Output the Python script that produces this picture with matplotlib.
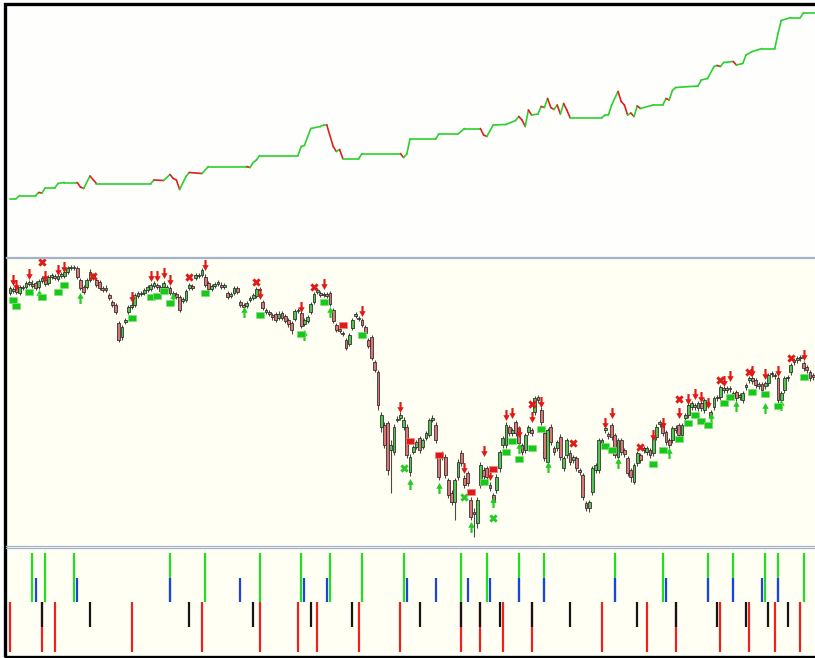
import numpy as np
import matplotlib
matplotlib.use('Agg')
import matplotlib.pyplot as plt
from matplotlib.path import Path
from matplotlib.collections import LineCollection
from matplotlib.patches import Rectangle
from matplotlib.lines import Line2D

# equity curve (bar, cumulative profit) - keypoints
eq_bar = [0, 2, 3, 8, 9, 10, 11, 14, 15, 17, 21, 22, 23, 25, 27, 44, 45, 48, 50, 51,
          52, 53, 55, 56, 60, 62, 74, 75, 76, 77, 78, 90, 91, 92, 94, 97, 98, 99, 101, 102,
          103, 104, 109, 110, 122, 123, 124, 125, 133, 134, 140, 142, 147, 148, 149, 151, 155, 158, 159, 160,
          161, 162, 163, 165, 166, 167, 168, 169, 170, 171, 172, 173, 174, 175, 185, 186, 187, 188, 190, 191,
          192, 193, 194, 195, 196, 197, 201, 204, 205, 206, 207, 208, 215, 216, 218, 220, 221, 222, 223, 226,
          227, 229, 230, 232, 235, 239, 240, 241, 244, 247, 248, 252]
eq_val = [0, 0, 3, 3, 6, 5.5, 10.5, 10.5, 15, 16, 16, 11.5, 10, 22.5, 15, 15, 18.5, 18, 24, 20,
          18.5, 9, 22, 26, 25, 32, 32, 31, 36, 38.5, 43, 43, 52, 53, 70, 72, 73.5, 73.5, 52, 47,
          49, 40, 40, 45, 45, 41, 44.5, 59.5, 59.5, 64.5, 64.5, 70, 70, 63.5, 62, 73.5, 74, 78, 82, 78.5,
          72, 88.5, 83.5, 84.5, 92, 91, 100, 91, 89, 93.5, 84.5, 95, 88.5, 81, 81, 83.5, 83.5, 93.5, 107, 97,
          93.5, 83.5, 85.5, 82, 92.5, 90, 93.5, 93.5, 100, 98.5, 108, 111, 112.5, 118.5, 120, 132, 133, 132, 136, 137,
          133.5, 135, 143.5, 147, 150, 150, 165, 178, 181, 181, 186, 186]

# daily bars
opens = [
    307, 311, 313, 307, 312, 313, 316, 314, 317, 313,
    319, 320, 317, 323, 324, 321, 324, 324, 328, 332,
    332, 332, 320, 313, 313, 320, 325, 320, 318, 312,
    310, 305, 298, 295, 277, 263, 278, 288, 293, 295,
    304, 307, 307, 310, 311, 314, 315, 313, 313, 313,
    312, 307, 306, 303, 299, 300, 312, 314, 322, 324,
    325, 323, 317, 311, 314, 316, 315, 313, 307, 304,
    307, 312, 298, 295, 294, 300, 302, 304, 311, 298,
    290, 288, 285, 286, 282, 287, 284, 280, 277, 281,
    289, 287, 276, 279, 288, 298, 308, 307, 305, 306,
    307, 290, 275, 271, 267, 260, 256, 272, 284, 282,
    280, 273, 260, 263, 238, 228, 173, 175, 177, 150,
    148, 180, 182, 173, 173, 128, 148, 153, 162, 153,
    162, 165, 180, 175, 145, 143, 143, 120, 107, 98,
    123, 147, 122, 127, 100, 88, 77, 115, 130, 132,
    115, 105, 110, 132, 155, 155, 173, 167, 178, 172,
    155, 150, 168, 170, 188, 203, 190, 167, 138, 173,
    152, 152, 163, 132, 145, 147, 140, 142, 130, 125,
    97, 92, 108, 130, 130, 157, 170, 166, 175, 165,
    143, 160, 150, 142, 130, 118, 137, 145, 150, 148,
    150, 147, 163, 176, 177, 168, 160, 160, 172, 175,
    165, 182, 185, 193, 195, 192, 197, 190, 198, 188,
    193, 202, 203, 212, 210, 212, 207, 208, 203, 200,
    213, 220, 222, 220, 216, 216, 214, 217, 226, 225,
    222, 200, 210, 222, 228, 238, 240, 242, 237, 233,
    228, 225]
closes = [
    312, 309, 308, 313, 313, 317, 318, 316, 312, 319,
    322, 316, 323, 325, 322, 324, 326, 328, 332, 333,
    333, 323, 312, 308, 320, 328, 322, 315, 312, 310,
    312, 302, 295, 288, 260, 273, 280, 293, 295, 305,
    307, 306, 310, 313, 315, 317, 313, 309, 317, 311,
    307, 305, 303, 290, 301, 309, 315, 312, 325, 325,
    330, 315, 311, 314, 316, 318, 313, 315, 303, 306,
    312, 308, 295, 293, 297, 302, 305, 311, 310, 292,
    288, 286, 283, 280, 286, 282, 279, 276, 270, 289,
    290, 274, 280, 283, 296, 306, 310, 305, 306, 304,
    296, 279, 270, 269, 266, 252, 265, 280, 286, 281,
    275, 267, 254, 242, 230, 195, 185, 155, 130, 155,
    173, 181, 185, 180, 145, 143, 153, 158, 150, 160,
    167, 180, 182, 160, 123, 147, 125, 105, 98, 120,
    138, 137, 115, 117, 83, 86, 100, 135, 124, 123,
    112, 98, 123, 148, 162, 175, 167, 170, 167, 157,
    148, 165, 173, 167, 202, 200, 178, 142, 170, 158,
    148, 158, 143, 142, 160, 138, 143, 132, 128, 103,
    92, 98, 132, 135, 160, 160, 172, 164, 163, 145,
    160, 148, 146, 127, 123, 135, 147, 140, 152, 152,
    145, 162, 173, 178, 167, 158, 155, 172, 170, 165,
    175, 185, 195, 197, 193, 197, 192, 200, 196, 183,
    202, 203, 213, 210, 212, 211, 204, 202, 205, 207,
    215, 222, 219, 215, 214, 210, 217, 225, 227, 224,
    200, 207, 222, 223, 235, 240, 242, 243, 232, 230,
    222, 223]
highs = [
    314, 313, 315, 315, 315, 319, 320, 320, 319, 321,
    324, 322, 325, 327, 326, 326, 328, 330, 334, 335,
    335, 334, 322, 315, 322, 331, 327, 322, 320, 314,
    315, 307, 300, 297, 279, 275, 282, 295, 298, 307,
    309, 309, 312, 315, 317, 319, 317, 315, 319, 315,
    314, 309, 308, 305, 303, 311, 317, 316, 327, 327,
    332, 326, 319, 316, 318, 320, 318, 317, 309, 308,
    314, 314, 300, 297, 299, 304, 307, 313, 313, 300,
    292, 290, 287, 288, 289, 289, 286, 282, 279, 291,
    292, 290, 282, 285, 298, 308, 312, 309, 308, 308,
    309, 292, 277, 273, 269, 262, 267, 282, 288, 284,
    282, 275, 262, 265, 240, 230, 188, 178, 179, 160,
    176, 184, 188, 183, 176, 146, 155, 160, 164, 162,
    169, 182, 185, 178, 148, 149, 146, 122, 110, 122,
    141, 150, 125, 129, 103, 92, 103, 138, 133, 134,
    118, 107, 126, 150, 164, 178, 175, 172, 180, 174,
    157, 167, 175, 172, 204, 205, 193, 170, 172, 176,
    154, 160, 166, 144, 162, 150, 145, 144, 132, 127,
    99, 100, 134, 137, 162, 162, 175, 168, 177, 167,
    162, 162, 152, 144, 132, 137, 149, 147, 154, 154,
    152, 164, 176, 180, 179, 170, 162, 174, 175, 177,
    177, 187, 197, 199, 197, 199, 199, 202, 200, 190,
    204, 205, 215, 214, 214, 214, 209, 210, 207, 209,
    217, 224, 224, 222, 218, 218, 219, 227, 229, 227,
    224, 209, 224, 225, 237, 242, 244, 245, 239, 235,
    230, 227]
lows = [
    305, 307, 306, 305, 310, 311, 314, 312, 310, 311,
    317, 314, 315, 321, 320, 319, 322, 322, 326, 330,
    330, 321, 310, 306, 311, 318, 320, 313, 310, 308,
    308, 300, 293, 286, 258, 260, 276, 286, 291, 293,
    302, 304, 305, 308, 309, 312, 311, 306, 311, 309,
    305, 303, 301, 288, 297, 298, 310, 310, 320, 322,
    323, 313, 309, 309, 312, 314, 311, 311, 301, 302,
    305, 306, 293, 290, 292, 298, 300, 302, 308, 290,
    286, 284, 280, 278, 280, 280, 277, 273, 266, 279,
    287, 272, 274, 277, 286, 296, 306, 303, 303, 302,
    294, 277, 268, 267, 264, 250, 254, 270, 282, 279,
    273, 265, 252, 240, 228, 190, 168, 152, 125, 107,
    145, 178, 180, 170, 142, 124, 146, 151, 147, 151,
    160, 163, 178, 157, 120, 140, 122, 102, 95, 80,
    120, 134, 112, 114, 80, 63, 72, 112, 121, 120,
    109, 95, 107, 128, 152, 152, 164, 164, 164, 154,
    145, 147, 165, 164, 185, 197, 175, 139, 135, 155,
    145, 149, 140, 129, 142, 135, 137, 129, 125, 100,
    89, 88, 105, 127, 127, 154, 167, 161, 160, 142,
    140, 145, 143, 124, 118, 116, 134, 137, 147, 145,
    142, 144, 160, 173, 164, 155, 152, 157, 167, 162,
    162, 179, 182, 190, 190, 189, 189, 187, 193, 180,
    190, 199, 200, 207, 207, 208, 201, 199, 200, 197,
    210, 217, 216, 212, 211, 207, 211, 214, 223, 221,
    197, 197, 207, 219, 225, 235, 237, 239, 229, 227,
    219, 220]

# trade markers (bar, price)
sell_arrow_bar = [1, 2, 6, 11, 15, 17, 38, 44, 46, 48, 50, 61, 78, 91, 98, 110, 122, 142, 148, 150,
                  155, 157, 159, 163, 166, 186, 188, 201, 204, 209, 212, 214, 216, 218, 223, 225, 232, 236, 240, 248]
sell_arrow_px = [320, 315, 326, 324, 330, 333, 303, 324, 324, 327, 320, 335, 306, 293, 316, 289, 193, 132, 149, 125,
                 185, 187, 168, 183, 198, 177, 187, 165, 177, 187, 201, 206, 203, 197, 219, 224, 229, 226, 229, 245]
buy_arrow_bar = [9, 22, 51, 73, 92, 100, 125, 134, 144, 151, 159, 168, 190, 206, 219, 227, 236, 241]
buy_arrow_px = [305, 302, 302, 288, 265, 288, 116, 112, 73, 98, 152, 133, 137, 147, 182, 194, 192, 195]
red_x_bar = [10, 26, 56, 77, 95, 163, 176, 197, 209, 222, 231, 244]
red_x_px = [338, 324, 323, 318, 313, 196, 157, 153, 201, 220, 228, 242]
green_x_bar = [123, 142, 151]
green_x_px = [132, 103, 82]
green_box_bar = [1, 2, 6, 10, 15, 17, 38, 44, 46, 48, 50, 61, 78, 91, 98, 110, 148, 155, 157, 159,
                 163, 166, 186, 188, 201, 204, 209, 212, 214, 216, 218, 223, 225, 232, 236, 240, 248]
green_box_px = [300, 294, 308, 303, 308, 315, 282, 303, 304, 309, 297, 307, 285, 266, 298, 265, 118, 148, 159, 141,
                152, 171, 154, 150, 136, 150, 161, 177, 185, 179, 175, 197, 203, 208, 206, 194, 223]
red_box_bar = [104, 125, 134, 144, 151]
red_box_px = [275, 159, 145, 108, 131]

# signal bars in bottom pane
sig_green = [7, 11, 20, 50, 61, 78, 91, 100, 110, 123, 141, 149, 159, 167, 189, 204, 218, 226, 236, 240, 248]
sig_blue = [8, 21, 50, 72, 92, 99, 124, 133, 143, 150, 159, 167, 189, 205, 218, 226, 235, 240]
sig_black = [10, 25, 56, 76, 94, 107, 128, 141, 147, 153, 163, 175, 196, 208, 221, 230, 237, 243]
sig_red = [0, 10, 14, 38, 60, 78, 90, 96, 109, 122, 141, 147, 154, 163, 185, 199, 208, 222, 231, 239, 247]

W, H = 815, 658
XMIN, XMAX = -1.25, 251.56

fig = plt.figure(figsize=(W / 100, H / 100), dpi=100)
fig.patch.set_facecolor('white')


def pane(top_px, bot_px, bg):
    ax = fig.add_axes([6 / W, 1 - bot_px / H, 1 - 6 / W, (bot_px - top_px) / H])
    ax.set_facecolor(bg)
    ax.set_xticks([])
    ax.set_yticks([])
    for s in ax.spines.values():
        s.set_visible(False)
    ax.set_xlim(XMIN, XMAX)
    return ax


ax1 = pane(5, 256, '#fefefd')
ax2 = pane(259, 545, '#fffff3')
ax3 = pane(548, 655, '#fffff3')

# --- equity
pts = np.column_stack([eq_bar, eq_val])
segs = np.stack([pts[:-1], pts[1:]], axis=1)
cols = ['#dd2020' if b < a else '#2ad12a' for a, b in zip(eq_val[:-1], eq_val[1:])]
ax1.add_collection(LineCollection(segs, colors=cols, linewidths=1.2, capstyle='round'))
ax1.set_ylim(-57.5, 193.5)

# --- candles
x = np.arange(len(closes))
o = np.array(opens, float)
c = np.array(closes, float)
up = c >= o
body = np.where(np.abs(c - o) < 0.9, 0.9, np.abs(c - o))
ax2.vlines(x, lows, highs, color='#4a4a4a', lw=0.8, zorder=1)
ax2.bar(x, body, bottom=np.minimum(o, c), width=0.85,
        color=np.where(up, '#52c452', '#dc7474'), edgecolor='#262626', linewidth=0.55, zorder=2)

arrow_dn = Path([(-0.2, 1), (0.2, 1), (0.2, 0.05), (0.58, 0.05), (0, -1),
                 (-0.58, 0.05), (-0.2, 0.05), (-0.2, 1)], closed=True)
arrow_up = Path([(vx, -vy) for vx, vy in arrow_dn.vertices], closed=True)
box = Path([(-1, -0.62), (1, -0.62), (1, 0.62), (-1, 0.62), (-1, -0.62)], closed=True)

ax2.scatter(sell_arrow_bar, sell_arrow_px, marker=arrow_dn, s=62, color='#e01818', lw=0, zorder=4)
ax2.scatter(buy_arrow_bar, buy_arrow_px, marker=arrow_up, s=62, color='#22cc22', lw=0, zorder=4)
ax2.scatter(red_x_bar, red_x_px, marker='X', s=36, color='#e01818', lw=0, zorder=4)
ax2.scatter(green_x_bar, green_x_px, marker='X', s=36, color='#22cc22', lw=0, zorder=4)
ax2.scatter(green_box_bar, green_box_px, marker=box, s=40, color='#18c818',
            edgecolor='#7be07b', lw=0.5, zorder=4)
ax2.scatter(red_box_bar, red_box_px, marker=box, s=40, color='#e01818',
            edgecolor='#f08080', lw=0.5, zorder=4)
ax2.set_ylim(55, 341)

# --- signals
ax3.vlines(sig_green, 2, 4, color='#22dd22', lw=1.6)
ax3.vlines(sig_blue, 2, 3, color='#2040e0', lw=1.6)
ax3.vlines(sig_red, 0, 2, color='#ee2020', lw=1.6)
ax3.vlines(sig_black, 1, 2, color='#151515', lw=1.6)
ax3.set_ylim(-0.12, 4.2)

# separators between panes
for ypx in [256.5, 258.5, 545.5, 547.5]:
    fig.add_artist(Line2D([6 / W, 1], [1 - ypx / H] * 2, color='#a3b4c6', lw=0.9,
                          transform=fig.transFigure))

# outer frame
fig.add_artist(Rectangle((4.5 / W, 1 - 656.5 / H), 1.2, 653 / H, fill=False,
                         edgecolor='black', lw=2.4, transform=fig.transFigure, clip_on=False))

fig.savefig('out.png', dpi=100)
